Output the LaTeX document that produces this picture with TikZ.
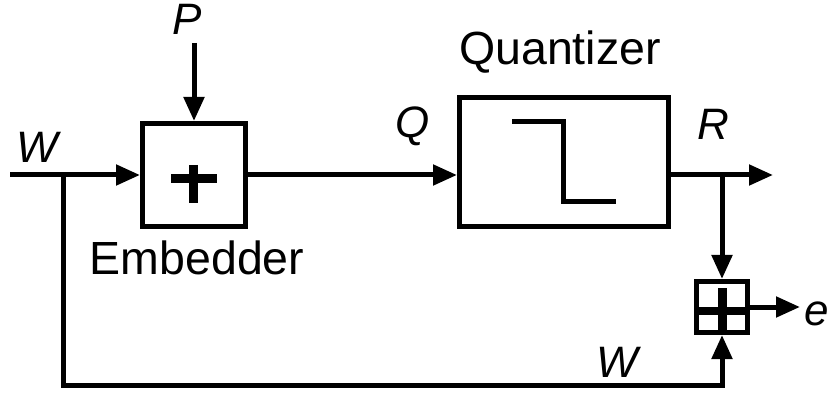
\documentclass[tikz,border=0pt]{standalone}
\usepackage{fontspec}
\setmainfont{Liberation Sans}
\usetikzlibrary{arrows.meta,calc}
\begin{document}
\begin{tikzpicture}[x=1pt,y=-1pt,
  wire/.style={line width=5pt},
  arr/.style={wire,-{Triangle[length=24pt,width=20pt]}},
  blockbox/.style={draw,line width=5pt,inner sep=0pt},
  plusbar/.style={line width=9pt},
  lbl/.style={font=\fontsize{44}{48}\selectfont\itshape,inner sep=0pt,anchor=base},
  txt/.style={font=\fontsize{46.5}{50}\selectfont,inner sep=0pt,anchor=base}]
\useasboundingbox (0,0) rectangle (831,393);
% blocks
\node[blockbox,minimum width=103pt,minimum height=103pt] (emb) at (194,175) {};
\node[blockbox,minimum width=209pt,minimum height=129pt] (quant) at (564,162) {};
\node[blockbox,minimum width=51pt,minimum height=51pt] (sum) at (722,307) {};
% plus signs
\draw[plusbar] (171,179) -- (217,179);
\draw[plusbar] (193.5,165) -- (193.5,203);
\draw[line width=8pt] (699,311) -- (745,311);
\draw[plusbar] (722.5,288) -- (722.5,332);
% quantizer step
\draw[line width=5pt] (512,122) -- (563,122) -- (563,202) -- (616,202);
% coordinates
\coordinate (in) at (10,175);
\coordinate (br) at (63,175);
\coordinate (ptop) at (194,43);
\coordinate (rbr) at (722,175);
\coordinate (out) at (773,175);
\coordinate (eout) at (800,307);
\coordinate (bl) at (63,385);
\coordinate (bc) at (722,385);
% wires
\draw[arr] (in) -- (emb.west);
\draw[arr] (ptop) -- (emb.north);
\draw[arr] (emb.east) -- (quant.west |- br);
\draw[arr] (quant.east |- br) -- (out);
\draw[arr] (rbr) -- (sum.north);
\draw[arr] (sum.east) -- (eout);
\draw[wire] (br) -- (bl) -- (bc);
\draw[arr] ($(bc)+(0,2.5)$) -- (sum.south);
% labels
\node[lbl] (lw) at (37,163) {W};
\node[lbl] (lp) at (187,35) {P};
\node[lbl] (lq) at (413,138) {Q};
\node[lbl] (lr) at (713,140) {R};
\node[lbl] (le) at (817,325) {e};
\node[lbl] (lw2) at (617,377) {W};
\node[txt] (lemb) at (197,275) {Embedder};
\node[txt] (lquant) at (560,65) {Quantizer};
\end{tikzpicture}
\end{document}
